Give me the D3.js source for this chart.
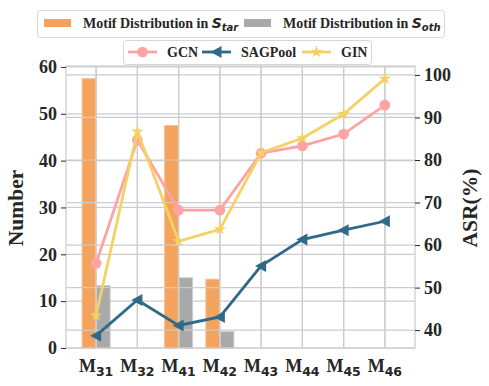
<!DOCTYPE html>
<html>
<head>
<meta charset="utf-8">
<script src="https://cdn.jsdelivr.net/npm/d3@7"></script>
<style>
  body { margin: 0; background: #fff; }
  text { font-family: 'Liberation Serif', 'Times New Roman', serif; font-weight: bold; fill: #262626; }
</style>
</head>
<body>
<svg id="chart" width="489" height="386"></svg>
<script>
const categories = ['31', '32', '41', '42', '43', '44', '45', '46'];
const starCounts = [57.5, 0, 47.5, 14.7, 0, 0, 0, 0];
const othCounts = [13.3, 0, 15, 3.5, 0, 0, 0, 0];
const gcnAsr = [55.7, 84.7, 68.2, 68.2, 81.6, 83.3, 86.1, 92.9];
const sagAsr = [38.7, 47.1, 41.1, 43.1, 55.1, 61.3, 63.5, 65.6];
const ginAsr = [43.5, 86.7, 60.9, 63.7, 81.7, 85.1, 90.8, 99.1];
const leftTicks = [0, 10, 20, 30, 40, 50, 60];
const rightTicks = [40, 50, 60, 70, 80, 90, 100];

const svg = d3.select('#chart');
const margin = {left: 66, right: 415, top: 66, bottom: 348};

const x = d3.scaleLinear().domain([-0.73, 7.73]).range([margin.left, margin.right]);
const yL = d3.scaleLinear().domain([0, 60.2]).range([margin.bottom, margin.top]);
const yR = d3.scaleLinear().domain([35.8, 102.1]).range([margin.bottom, margin.top]);

const gridColor = '#cccccc';
const barW = 0.33;

// left grid (under bars)
const gL = svg.append('g');
gL.selectAll('line.h')
  .data(leftTicks)
  .enter()
  .append('line')
  .attr('x1', margin.left).attr('x2', margin.right)
  .attr('y1', (d) => yL(d)).attr('y2', (d) => yL(d))
  .attr('stroke', gridColor).attr('stroke-width', 1.2);
gL.selectAll('line.v')
  .data(categories)
  .enter()
  .append('line')
  .attr('x1', (d, i) => x(i)).attr('x2', (d, i) => x(i))
  .attr('y1', margin.top).attr('y2', margin.bottom)
  .attr('stroke', gridColor).attr('stroke-width', 1.2);

// bars
svg.append('g').selectAll('rect')
  .data(starCounts)
  .enter()
  .append('rect')
  .attr('x', (d, i) => x(i - 0.175 - barW / 2))
  .attr('width', x(barW) - x(0))
  .attr('y', (d) => yL(d))
  .attr('height', (d) => yL(0) - yL(d))
  .attr('fill', '#f4a35f')
  .attr('stroke', '#f8c294')
  .attr('stroke-width', d => d > 0 ? 1 : 0);

svg.append('g').selectAll('rect')
  .data(othCounts)
  .enter()
  .append('rect')
  .attr('x', (d, i) => x(i + 0.175 - barW / 2))
  .attr('width', x(barW) - x(0))
  .attr('y', (d) => yL(d))
  .attr('height', (d) => yL(0) - yL(d))
  .attr('fill', '#a9a9a9')
  .attr('stroke', '#cfcfcf')
  .attr('stroke-width', d => d > 0 ? 1 : 0);

// right grid (twin axes drawn over bars)
const gR = svg.append('g');
gR.selectAll('line')
  .data(rightTicks)
  .enter()
  .append('line')
  .attr('x1', margin.left).attr('x2', margin.right)
  .attr('y1', (d) => yR(d)).attr('y2', (d) => yR(d))
  .attr('stroke', gridColor).attr('stroke-width', 1.2);
gR.selectAll('line.v')
  .data(categories)
  .enter()
  .append('line')
  .attr('x1', (d, i) => x(i)).attr('x2', (d, i) => x(i))
  .attr('y1', margin.top).attr('y2', margin.bottom)
  .attr('stroke', gridColor).attr('stroke-width', 1.2);

// frame
svg.append('rect')
  .attr('x', margin.left).attr('y', margin.top)
  .attr('width', margin.right - margin.left)
  .attr('height', margin.bottom - margin.top)
  .attr('fill', 'none').attr('stroke', gridColor).attr('stroke-width', 1.2);

// axes
const axisL = svg.append('g')
  .attr('transform', `translate(${margin.left},0)`)
  .call(d3.axisLeft(yL).tickValues(leftTicks).tickSize(5).tickPadding(4));
const axisR = svg.append('g')
  .attr('transform', `translate(${margin.right},0)`)
  .call(d3.axisRight(yR).tickValues(rightTicks).tickSize(5).tickPadding(4));
[axisL, axisR].forEach((a) => {
  a.select('.domain').remove();
  a.selectAll('.tick line').attr('stroke', '#262626').attr('stroke-width', 1);
  a.selectAll('.tick text')
    .attr('font-family', "'Liberation Serif', serif")
    .attr('font-weight', 'bold')
    .attr('font-size', 18)
    .attr('fill', '#262626');
});

// x tick labels M_{ij}
const xl = svg.append('g').selectAll('text')
  .data(categories)
  .enter()
  .append('text')
  .attr('x', (d, i) => x(i))
  .attr('y', 372)
  .attr('text-anchor', 'middle');
xl.append('tspan')
  .attr('font-size', 18)
  .text('M');
xl.append('tspan')
  .attr('font-family', "'DejaVu Sans', sans-serif")
  .attr('font-size', 12.5)
  .attr('dy', 4)
  .text((d) => d);

// axis titles
svg.append('text')
  .attr('transform', 'translate(23,208) rotate(-90)')
  .attr('text-anchor', 'middle')
  .attr('font-size', 21.5)
  .text('Number');
svg.append('text')
  .attr('transform', 'translate(477,208) rotate(-90)')
  .attr('text-anchor', 'middle')
  .attr('font-size', 21.5)
  .text('ASR(%)');

// lines
const series = [
  {name: 'GCN', values: gcnAsr, color: '#fea3a3', marker: 'circle'},
  {name: 'SAGPool', values: sagAsr, color: '#2f6a8a', marker: 'tri'},
  {name: 'GIN', values: ginAsr, color: '#f5d164', marker: 'star'},
];

const line = d3.line().x((d, i) => x(i)).y((d) => yR(d));

function markerPath(type) {
  if (type === 'circle') return d3.symbol(d3.symbolCircle, 90)();
  if (type === 'star') return d3.symbol(d3.symbolStar, 48)();
  // left-pointing triangle
  return 'M-6,0L5,-6L5,6Z';
}

series.forEach((s) => {
  const g = svg.append('g');
  g.append('path')
    .attr('d', line(s.values))
    .attr('fill', 'none')
    .attr('stroke', s.color)
    .attr('stroke-width', 2.8);
  g.selectAll('path.m')
    .data(s.values)
    .enter()
    .append('path')
    .attr('d', markerPath(s.marker))
    .attr('transform', (d, i) => `translate(${x(i)},${yR(d)})`)
    .attr('fill', s.color);
});

// legend 1 (bars)
const leg1 = svg.append('g');
leg1.append('rect')
  .attr('x', 37.5).attr('y', 10.5).attr('width', 407).attr('height', 27)
  .attr('rx', 3).attr('fill', 'rgba(255,255,255,0.85)')
  .attr('stroke', '#d6d6d6');
const barLegend = [
  {label: 'tar', color: '#f4a35f', x: 44},
  {label: 'oth', color: '#a9a9a9', x: 244},
];
barLegend.forEach((b) => {
  leg1.append('rect')
    .attr('x', b.x).attr('y', 19).attr('width', 27).attr('height', 8)
    .attr('fill', b.color);
  const t = leg1.append('text')
    .attr('x', b.x + 39).attr('y', 28)
    .attr('font-size', 14);
  t.append('tspan').text('Motif Distribution in ');
  t.append('tspan')
    .attr('font-family', "'DejaVu Sans', sans-serif")
    .attr('font-style', 'italic')
    .attr('font-size', 14)
    .text('S');
  t.append('tspan')
    .attr('font-family', "'DejaVu Sans', sans-serif")
    .attr('font-style', 'italic')
    .attr('font-size', 10)
    .attr('dy', 3)
    .text(b.label);
});

// legend 2 (lines)
const leg2 = svg.append('g');
leg2.append('rect')
  .attr('x', 123.5).attr('y', 40.5).attr('width', 248).attr('height', 24)
  .attr('rx', 3).attr('fill', 'rgba(255,255,255,0.85)')
  .attr('stroke', '#d6d6d6');
const lineLegendX = [128, 202, 302];
series.forEach((s, i) => {
  const lx = lineLegendX[i];
  leg2.append('line')
    .attr('x1', lx).attr('x2', lx + 29)
    .attr('y1', 52).attr('y2', 52)
    .attr('stroke', s.color).attr('stroke-width', 2.8);
  leg2.append('path')
    .attr('d', markerPath(s.marker))
    .attr('transform', `translate(${lx + 14.5},52)`)
    .attr('fill', s.color);
  leg2.append('text')
    .attr('x', lx + 39).attr('y', 57)
    .attr('font-size', 14)
    .text(s.name);
});
</script>
</body>
</html>
